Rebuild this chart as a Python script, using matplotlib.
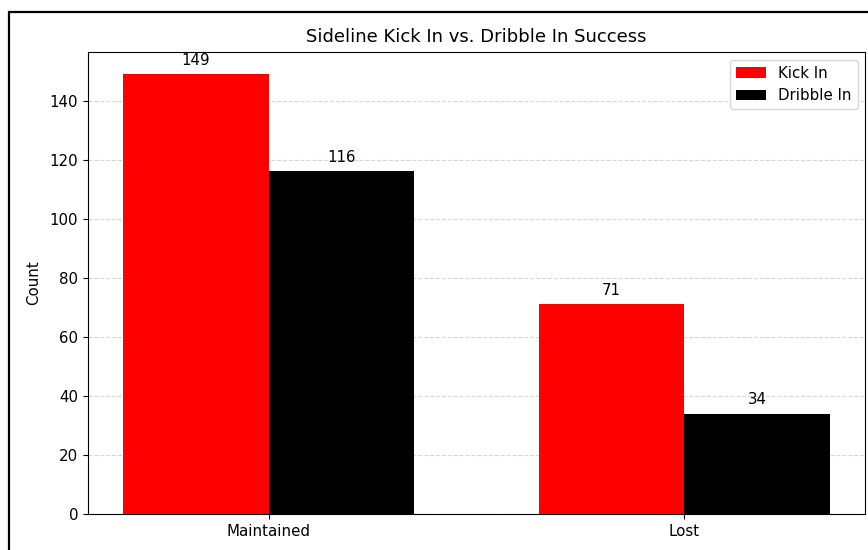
import numpy as np
import matplotlib.pyplot as plt
from matplotlib.patches import Rectangle

outcomes = ['Maintained', 'Lost']
kick_in = [149, 71]
dribble_in = [116, 34]

x = np.arange(len(outcomes))
width = 0.35

plt.rcParams['font.size'] = 10.8

fig = plt.figure(figsize=(8.68, 5.5), dpi=100)
# outer frame around the figure
fig.patches.append(Rectangle((9 / 868, -0.1), 1.2, 1 - 12 / 550 + 0.1,
                             transform=fig.transFigure, fill=False,
                             edgecolor='black', linewidth=1.6, zorder=0))
ax = fig.add_axes([88 / 868, 1 - 514 / 550, (865 - 88) / 868, (514 - 52) / 550])

b1 = ax.bar(x - width / 2, kick_in, width, color='red', label='Kick In')
b2 = ax.bar(x + width / 2, dribble_in, width, color='black', label='Dribble In')

ax.bar_label(b1, padding=4.5)
ax.bar_label(b2, padding=4.5)

ax.set_xticks(x)
ax.set_xticklabels(outcomes)
ax.set_ylabel('Count', labelpad=6)
ax.set_title('Sideline Kick In vs. Dribble In Success', fontsize=13, pad=7)
ax.legend(loc='upper right')
ax.grid(axis='y', linestyle='--', alpha=0.5)
ax.set_axisbelow(True)

fig.savefig('out.png', dpi=100)
